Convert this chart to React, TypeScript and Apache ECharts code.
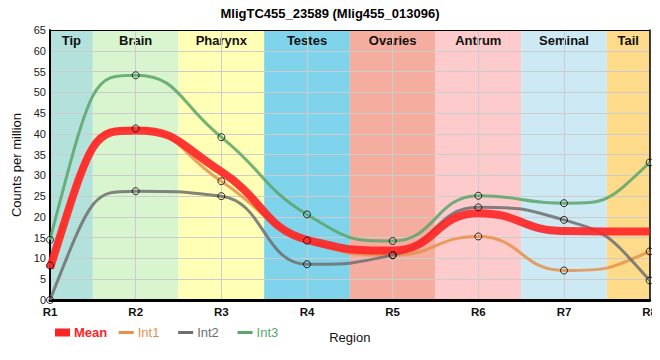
import React, { useEffect, useRef } from "react";
import * as echarts from "echarts";

const regions = ["R1", "R2", "R3", "R4", "R5", "R6", "R7", "R8"];
const meanVals = [7.6, 40.8, 30.9, 14.5, 11.9, 20.9, 16.6, 16.5];
const int1Vals = [8.3, 41.3, 28.6, 14.3, 10.8, 15.3, 7.1, 11.7];
const int2Vals = [0, 26.2, 25.0, 8.6, 10.8, 22.3, 19.3, 4.7];
const int3Vals = [14.5, 54.1, 39.2, 20.6, 14.2, 25.1, 23.3, 33.1];
const bandNames = ["Tip", "Brain", "Pharynx", "Testes", "Ovaries", "Antrum", "Seminal", "Tail"];
const bandColors = ["#b3e2dc", "#d8f5d0", "#ffffb5", "#7fd4eb", "#f5ad9f", "#fdcbcb", "#cdeaf4", "#fddb8b"];
const seriesColors: Record<string, string> = { Mean: "#ff2424", Int1: "#e8904a", Int2: "#6e6e6e", Int3: "#5aa56a" };

const FONT = "Liberation Sans, Arial, sans-serif";

// Monotone cubic path through pixel points (Fritsch-Carlson tangents,
// control handles reaching half-way along each segment)
function monotonePath(pts: number[][]): string {
  const n = pts.length;
  if (n < 2) return "";
  const h: number[] = [];
  const s: number[] = [];
  for (let i = 0; i < n - 1; i++) {
    h.push(pts[i + 1][0] - pts[i][0]);
    s.push((pts[i + 1][1] - pts[i][1]) / h[i]);
  }
  const sign = (v: number) => (v < 0 ? -1 : 1);
  const t: number[] = new Array(n).fill(0);
  for (let i = 1; i < n - 1; i++) {
    const s0 = s[i - 1], s1 = s[i], h0 = h[i - 1], h1 = h[i];
    const p = (s0 * h1 + s1 * h0) / (h0 + h1);
    t[i] = (sign(s0) + sign(s1)) * Math.min(Math.abs(s0), Math.abs(s1), 0.5 * Math.abs(p)) || 0;
  }
  const endT = (sv: number, adj: number) => {
    let v = 2 * sv - adj;
    if (sv === 0 || Math.sign(v) !== Math.sign(sv)) v = 0;
    if (Math.abs(v) > 3 * Math.abs(sv)) v = 3 * sv;
    return v;
  };
  t[0] = endT(s[0], t[1]);
  t[n - 1] = endT(s[n - 2], t[n - 2]);
  let d = `M${pts[0][0]},${pts[0][1]}`;
  for (let i = 0; i < n - 1; i++) {
    const dx = h[i] / 2;
    const [x0, y0] = pts[i];
    const [x1, y1] = pts[i + 1];
    d += ` C${x0 + dx},${y0 + dx * t[i]} ${x1 - dx},${y1 - dx * t[i + 1]} ${x1},${y1}`;
  }
  return d;
}

export default function App() {
  const ref = useRef<HTMLDivElement>(null);
  useEffect(() => {
    if (!ref.current) return;
    const chart = echarts.init(ref.current, undefined, { renderer: "svg" });
    const toPts = (arr: number[]) => arr.map((v, i) => [i, v]);
    const bands = bandNames.map((n, i) => [
      {
        name: n,
        xAxis: Math.max(0, i - 0.5),
        itemStyle: { color: bandColors[i] },
      },
      { xAxis: Math.min(regions.length - 1, i + 0.5) },
    ]);
    const curveSeries = (name: string, data: number[], width: number, z: number, opacity: number) => ({
      name,
      type: "custom",
      data: toPts(data),
      z,
      silent: true,
      itemStyle: { color: seriesColors[name] },
      renderItem: (params: any, api: any) => {
        if (params.dataIndex !== 0) return null;
        const pts = data.map((v, i) => api.coord([i, v]));
        return {
          type: "path",
          shape: { pathData: monotonePath(pts) },
          style: {
            fill: "none",
            stroke: seriesColors[name],
            lineWidth: width,
            opacity,
            lineJoin: "round",
          },
        };
      },
    });
    const dots = (data: number[]) => ({
      type: "scatter",
      data: toPts(data),
      symbol: "circle",
      symbolSize: 7,
      z: 6,
      silent: true,
      itemStyle: { color: "rgba(255,255,255,0)", borderColor: "#000", borderWidth: 1 },
    });
    const thin = "path://M0,0h15v3h-15z";
    chart.setOption({
      animation: false,
      textStyle: { fontFamily: FONT },
      title: {
        text: "MligTC455_23589 (Mlig455_013096)",
        left: "center",
        top: 2,
        textStyle: { fontSize: 13, fontWeight: "bold", color: "#000", fontFamily: FONT },
      },
      grid: { left: 50, right: 9, top: 30, bottom: 60 },
      legend: {
        left: 50,
        top: 321,
        itemWidth: 15,
        itemHeight: 8,
        itemGap: 11.5,
        selectedMode: false,
        formatter: (name: string) => (name === "Mean" ? name : name + "  "),
        textStyle: { fontSize: 13, fontFamily: FONT, padding: [0, 0, 0, -1] },
        data: [
          { name: "Mean", icon: "rect", itemStyle: { color: seriesColors.Mean }, textStyle: { color: seriesColors.Mean, fontWeight: "bold" } },
          { name: "Int1", icon: thin, itemStyle: { color: seriesColors.Int1 }, textStyle: { color: seriesColors.Int1 } },
          { name: "Int2", icon: thin, itemStyle: { color: seriesColors.Int2 }, textStyle: { color: seriesColors.Int2 } },
          { name: "Int3", icon: thin, itemStyle: { color: seriesColors.Int3 }, textStyle: { color: seriesColors.Int3 } },
        ],
      },
      xAxis: [
        {
          type: "value",
          min: 0,
          max: regions.length - 1,
          interval: 1,
          z: 2,
          name: "Region",
          nameLocation: "middle",
          nameGap: 31,
          nameTextStyle: { fontSize: 13, color: "#111" },
          axisLine: { show: true, lineStyle: { color: "#000", width: 3 } },
          axisTick: { show: false },
          axisLabel: {
            formatter: (v: number) => regions[v] ?? "",
            fontSize: 11.5,
            fontWeight: "bold",
            color: "#111",
            margin: 6,
          },
          splitLine: { show: true, lineStyle: { color: "#cccccc", width: 1 } },
        },
        {
          type: "value",
          position: "top",
          min: 0,
          max: regions.length - 1,
          z: 2,
          axisLine: { show: true, onZero: false, lineStyle: { color: "#000", width: 1 } },
          axisTick: { show: false },
          axisLabel: { show: false },
          splitLine: { show: false },
        },
      ],
      yAxis: [
        {
          type: "value",
          min: 0,
          max: 65,
          interval: 5,
          z: 2,
          name: "Counts per million",
          nameLocation: "middle",
          nameGap: 26,
          nameTextStyle: { fontSize: 13, color: "#111" },
          axisLine: { show: true, lineStyle: { color: "#000", width: 2 } },
          axisTick: { show: false },
          axisLabel: { fontSize: 11, color: "#222", margin: 4 },
          splitLine: { show: true, lineStyle: { color: "#cccccc", width: 1 } },
        },
        {
          type: "value",
          position: "right",
          min: 0,
          max: 65,
          z: 2,
          axisLine: { show: true, onZero: false, lineStyle: { color: "#000", width: 1.5 } },
          axisTick: { show: false },
          axisLabel: { show: false },
          splitLine: { show: false },
        },
      ],
      series: [
        {
          type: "line",
          name: "bands",
          data: [],
          z: 1,
          silent: true,
          markArea: {
            silent: true,
            label: {
              show: true,
              position: "insideTop",
              distance: 4,
              fontSize: 13,
              fontWeight: "bold",
              color: "#111",
              fontFamily: FONT,
            },
            data: bands,
          },
        },
        curveSeries("Int1", int1Vals, 3, 3, 0.85),
        curveSeries("Int2", int2Vals, 3, 3, 0.85),
        curveSeries("Int3", int3Vals, 3, 3, 0.85),
        curveSeries("Mean", meanVals, 8, 4, 0.9),
        dots(int1Vals),
        dots(int2Vals),
        dots(int3Vals),
      ],
    });
    return () => chart.dispose();
  }, []);
  return <div ref={ref} style={{ width: 660, height: 360, margin: -8 }} />;
}
